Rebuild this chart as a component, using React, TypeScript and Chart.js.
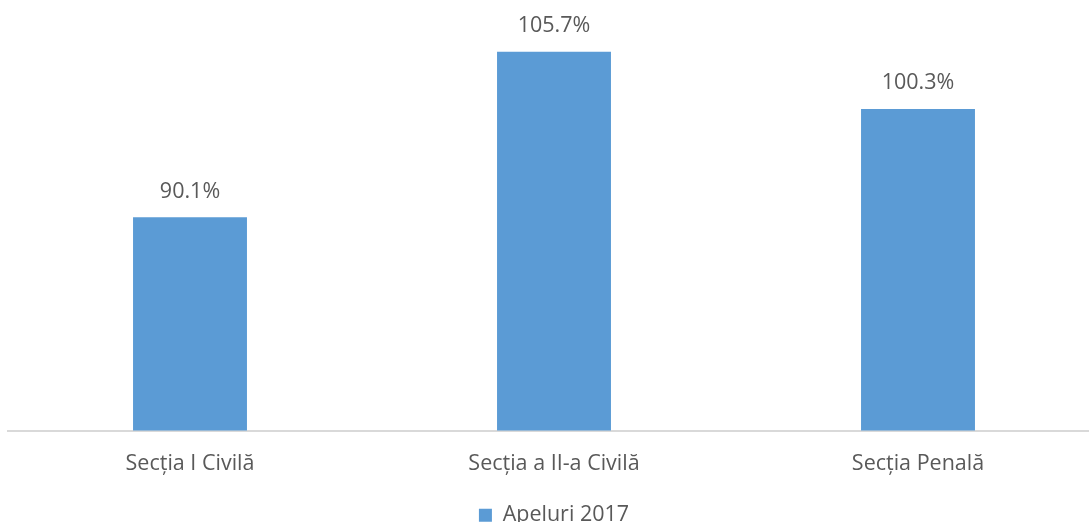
import React, { useEffect, useRef } from "react";
import { Chart, registerables } from "chart.js";

Chart.register(...registerables);

const categories = ["Secția I Civilă", "Secția a II-a Civilă", "Secția Penală"];
const seriesName = "Apeluri 2017";
const values = [90.1, 105.7, 100.3];

const valueLabelPlugin = {
  id: "valueLabels",
  afterDatasetsDraw(chart: any) {
    const { ctx } = chart;
    const meta = chart.getDatasetMeta(0);
    ctx.save();
    ctx.fillStyle = "#595959";
    ctx.font = "21.5px 'Open Sans', sans-serif";
    ctx.textAlign = "center";
    ctx.textBaseline = "bottom";
    meta.data.forEach((bar: any, i: number) => {
      ctx.fillText(values[i].toFixed(1) + "%", bar.x, bar.y - 15);
    });
    ctx.restore();
  },
};

export default function App() {
  const ref = useRef<HTMLCanvasElement | null>(null);
  useEffect(() => {
    document.body.style.margin = "0";
    document.body.style.overflow = "hidden";
    const chart = new Chart(ref.current as HTMLCanvasElement, {
      type: "bar",
      data: {
        labels: categories,
        datasets: [
          {
            label: seriesName,
            data: values,
            backgroundColor: "#5b9bd5",
            categoryPercentage: 1,
            barPercentage: 0.313,
          },
        ],
      },
      options: {
        animation: false,
        responsive: false,
        maintainAspectRatio: false,
        layout: { padding: { left: 8, right: 0, top: 6, bottom: 9 } },
        plugins: {
          legend: {
            position: "bottom",
            labels: {
              boxWidth: 13,
              boxHeight: 13,
              padding: 10,
              color: "#595959",
              font: { size: 21.5, family: "'Open Sans', sans-serif" },
            },
          },
          tooltip: { enabled: false },
        },
        scales: {
          x: {
            grid: { display: false, drawTicks: false },
            border: { display: true, color: "#d9d9d9", width: 2 },
            ticks: {
              color: "#595959",
              padding: 20,
              font: { size: 21.5, family: "'Open Sans', sans-serif" },
            },
            afterFit(scale: any) {
              scale.height = 64;
            },
          },
          y: {
            display: false,
            min: 70,
            max: 110,
          },
        },
      },
      plugins: [valueLabelPlugin],
    });
    return () => chart.destroy();
  }, []);
  return (
    <div style={{ position: "absolute", left: 0, top: 0, width: 1089, height: 522, overflow: "hidden" }}>
      <canvas ref={ref} width={1100} height={545} style={{ width: 1100, height: 545, display: "block" }} />
    </div>
  );
}
